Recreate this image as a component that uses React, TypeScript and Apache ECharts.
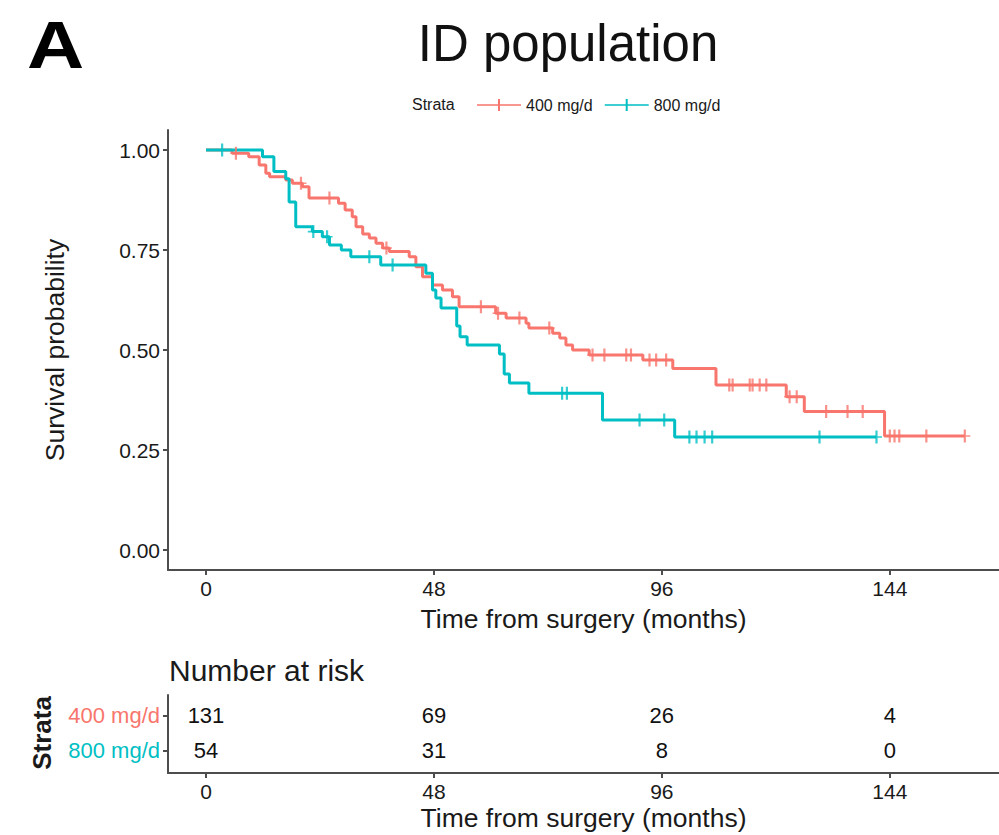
import React, { useEffect, useRef } from "react";
import * as echarts from "echarts";

// Kaplan-Meier steps (time in months, survival after event)
const redTimes = [0, 5.5, 9, 11.2, 12.6, 13.4, 16.8, 18.2, 20.3, 21.7, 27.9, 29.3, 30.8, 31.6, 33, 34.4, 35.8, 37.2, 38.6, 42.8, 44.2, 45.6, 47.7, 49.8, 51.9, 53.3, 61, 63.2, 67.4, 68, 73, 74.5, 75.8, 77.2, 80.7, 92, 98.3, 107.4, 122.2, 126, 142.9];
const redSurv = [1, 0.992, 0.983, 0.9625, 0.942, 0.933, 0.925, 0.917, 0.908, 0.88, 0.867, 0.85, 0.833, 0.808, 0.79, 0.78, 0.767, 0.755, 0.746, 0.733, 0.708, 0.683, 0.6625, 0.65, 0.633, 0.608, 0.592, 0.58, 0.567, 0.555, 0.542, 0.53, 0.5125, 0.5, 0.4875, 0.475, 0.454, 0.4125, 0.383, 0.346, 0.285];
const redEnd = 159.8;
const redCensor = [6.3, 20, 26, 38, 57.9, 61.5, 66, 72.3, 81.4, 83.9, 88.5, 89.5, 93.4, 94.8, 96.9, 110.2, 110.9, 114.5, 115.1, 116.6, 118, 122.9, 124.4, 130.6, 135.1, 138.3, 144, 145, 146, 151.7, 159.8];

const cyanTimes = [0, 11.9, 14.3, 16.8, 17.5, 18.9, 22.4, 24.5, 26, 28.5, 30.5, 36.8, 46.3, 47.7, 48.4, 49.5, 52.8, 53.5, 55, 61.8, 62.8, 63.9, 68, 83.5, 98.7];
const cyanSurv = [1, 0.983, 0.946, 0.928, 0.87, 0.808, 0.796, 0.783, 0.7625, 0.75, 0.733, 0.7125, 0.692, 0.65, 0.63, 0.605, 0.56, 0.533, 0.5125, 0.49, 0.44, 0.4175, 0.392, 0.325, 0.2825];
const cyanEnd = 141.2;
const cyanCensor = [3.4, 22.6, 25.5, 34.4, 39.3, 75, 76, 91.3, 96.5, 101.8, 103.3, 105, 106.6, 129.2, 141.2];

const strata = ["400 mg/d", "800 mg/d"];
const riskTimes = [0, 48, 96, 144];
const risk400 = [131, 69, 26, 4];
const risk800 = [54, 31, 8, 0];
const xTicks = [0, 48, 96, 144];
const yTicks = [0, 0.25, 0.5, 0.75, 1];

const RED = "#F8766D";
const CYAN = "#00BFC4";
const FONT = "'Liberation Sans', Arial, Helvetica, sans-serif";
const AXIS = "#4d4d4d";
const TXT = "#1a1a1a";

function stepData(t: number[], s: number[], end: number) {
  const d = t.map((v, i) => [v, s[i]]);
  d.push([end, s[s.length - 1]]);
  return d;
}
function survAt(t: number[], s: number[], x: number) {
  let v = s[0];
  for (let i = 0; i < t.length; i++) if (t[i] <= x) v = s[i];
  return v;
}

const censorSym = "path://M0,4.4 L10,4.4 L10,5.6 L0,5.6 Z M4.0,0 L6.0,0 L6.0,10 L4.0,10 Z";
const legendSym = "path://M0,5.2 L44,5.2 L44,6.8 L0,6.8 Z M21,0 L23,0 L23,12 L21,12 Z";

export default function App() {
  const ref = useRef<HTMLDivElement>(null);
  useEffect(() => {
    if (!ref.current) return;
    const chart = echarts.init(ref.current, null, { renderer: "svg" });
    const axisLine = { show: true, onZero: false, lineStyle: { color: AXIS, width: 2 } };
    const tick = (vals: number[]) => ({ show: true, length: 5, customValues: vals, lineStyle: { color: AXIS, width: 2 } });
    const xAxisFor = (gi: number, gap: number) => ({
      gridIndex: gi,
      type: "value",
      min: -8,
      max: 167,
      axisLine,
      axisTick: tick(xTicks),
      splitLine: { show: false },
      axisLabel: { customValues: xTicks, fontSize: 21, color: TXT, margin: 8, fontFamily: FONT },
      name: "Time from surgery (months)",
      nameLocation: "middle",
      nameGap: gap,
      nameTextStyle: { fontSize: 26.5, color: TXT, fontFamily: FONT },
    });
    const option: any = {
      animation: false,
      backgroundColor: "#ffffff",
      textStyle: { fontFamily: FONT },
      legend: {
        left: 472,
        top: 92,
        itemWidth: 44,
        itemHeight: 12,
        itemGap: 12,
        data: strata.map((n, i) => ({ name: n, icon: legendSym, itemStyle: { color: i === 0 ? RED : CYAN } })),
        textStyle: { fontSize: 16, color: TXT, fontFamily: FONT },
        selectedMode: false,
      },
      grid: [
        { left: 168, right: 0, top: 130, bottom: 265 },
        { left: 168, right: 0, top: 695, bottom: 62 },
      ],
      xAxis: [xAxisFor(0, 35), xAxisFor(1, 31)],
      yAxis: [
        {
          gridIndex: 0,
          type: "value",
          min: -0.05,
          max: 1.05,
          axisLine,
          axisTick: tick(yTicks),
          splitLine: { show: false },
          axisLabel: {
            customValues: yTicks,
            fontSize: 21,
            color: TXT,
            margin: 8,
            fontFamily: FONT,
            formatter: (v: number) => v.toFixed(2),
          },
          name: "Survival probability",
          nameLocation: "middle",
          nameGap: 100,
          nameTextStyle: { fontSize: 26.5, color: TXT, fontFamily: FONT },
        },
        {
          gridIndex: 1,
          type: "value",
          min: 0.35,
          max: 2.6,
          axisLine,
          axisTick: tick([1, 2]),
          splitLine: { show: false },
          axisLabel: {
            customValues: [1, 2],
            margin: 8,
            formatter: (v: number) => (Math.round(v) === 2 ? "{r|" + strata[0] + "}" : "{c|" + strata[1] + "}"),
            rich: {
              r: { color: RED, fontSize: 22, fontFamily: FONT },
              c: { color: CYAN, fontSize: 22, fontFamily: FONT },
            },
          },
        },
      ],
      graphic: [
        {
          type: "text",
          x: 27,
          y: 12,
          scaleX: 1.2,
          style: { text: "A", fontSize: 66, fontWeight: "bold", fill: "#000", fontFamily: FONT, textVerticalAlign: "top" },
        },
        {
          type: "text",
          x: 568,
          y: 43,
          style: { text: "ID population", fontSize: 51, fill: "#111", fontFamily: FONT, textAlign: "center", textVerticalAlign: "middle" },
        },
        {
          type: "text",
          x: 412,
          y: 104,
          style: { text: "Strata", fontSize: 16, fill: TXT, fontFamily: FONT, textAlign: "left", textVerticalAlign: "middle" },
        },
        {
          type: "text",
          x: 169,
          y: 670,
          style: { text: "Number at risk", fontSize: 30, fill: TXT, fontFamily: FONT, textAlign: "left", textVerticalAlign: "middle" },
        },
        {
          type: "text",
          x: 42,
          y: 733,
          rotation: Math.PI / 2,
          style: { text: "Strata", fontSize: 26, fontWeight: "bold", fill: TXT, fontFamily: FONT, textAlign: "center", textVerticalAlign: "middle" },
        },
      ],
      series: [
        {
          name: strata[0],
          type: "line",
          xAxisIndex: 0,
          yAxisIndex: 0,
          step: "end",
          showSymbol: false,
          data: stepData(redTimes, redSurv, redEnd),
          lineStyle: { color: RED, width: 3 },
          itemStyle: { color: RED },
          z: 2,
        },
        {
          name: strata[1],
          type: "line",
          xAxisIndex: 0,
          yAxisIndex: 0,
          step: "end",
          showSymbol: false,
          data: stepData(cyanTimes, cyanSurv, cyanEnd),
          lineStyle: { color: CYAN, width: 3 },
          itemStyle: { color: CYAN },
          z: 3,
        },
        {
          name: strata[0],
          type: "scatter",
          xAxisIndex: 0,
          yAxisIndex: 0,
          symbol: censorSym,
          symbolSize: [11, 13],
          data: redCensor.map((t) => [t, survAt(redTimes, redSurv, t)]),
          itemStyle: { color: RED },
          z: 4,
        },
        {
          name: strata[1],
          type: "scatter",
          xAxisIndex: 0,
          yAxisIndex: 0,
          symbol: censorSym,
          symbolSize: [11, 13],
          data: cyanCensor.map((t) => [t, survAt(cyanTimes, cyanSurv, t)]),
          itemStyle: { color: CYAN },
          z: 5,
        },
        {
          type: "scatter",
          xAxisIndex: 1,
          yAxisIndex: 1,
          symbolSize: 1,
          itemStyle: { color: "rgba(0,0,0,0)" },
          data: [
            ...riskTimes.map((t, i) => [t, 2, risk400[i]]),
            ...riskTimes.map((t, i) => [t, 1, risk800[i]]),
          ],
          label: {
            show: true,
            position: "inside",
            formatter: (p: any) => String(p.value[2]),
            fontSize: 22,
            color: "#111111",
            opacity: 1,
            textBorderWidth: 0,
            fontFamily: FONT,
          },
        },
      ],
    };
    chart.setOption(option);
    return () => chart.dispose();
  }, []);
  return (
    <div
      ref={ref}
      style={{ position: "absolute", left: 0, top: 0, width: 999, height: 835, background: "#fff" }}
    />
  );
}
